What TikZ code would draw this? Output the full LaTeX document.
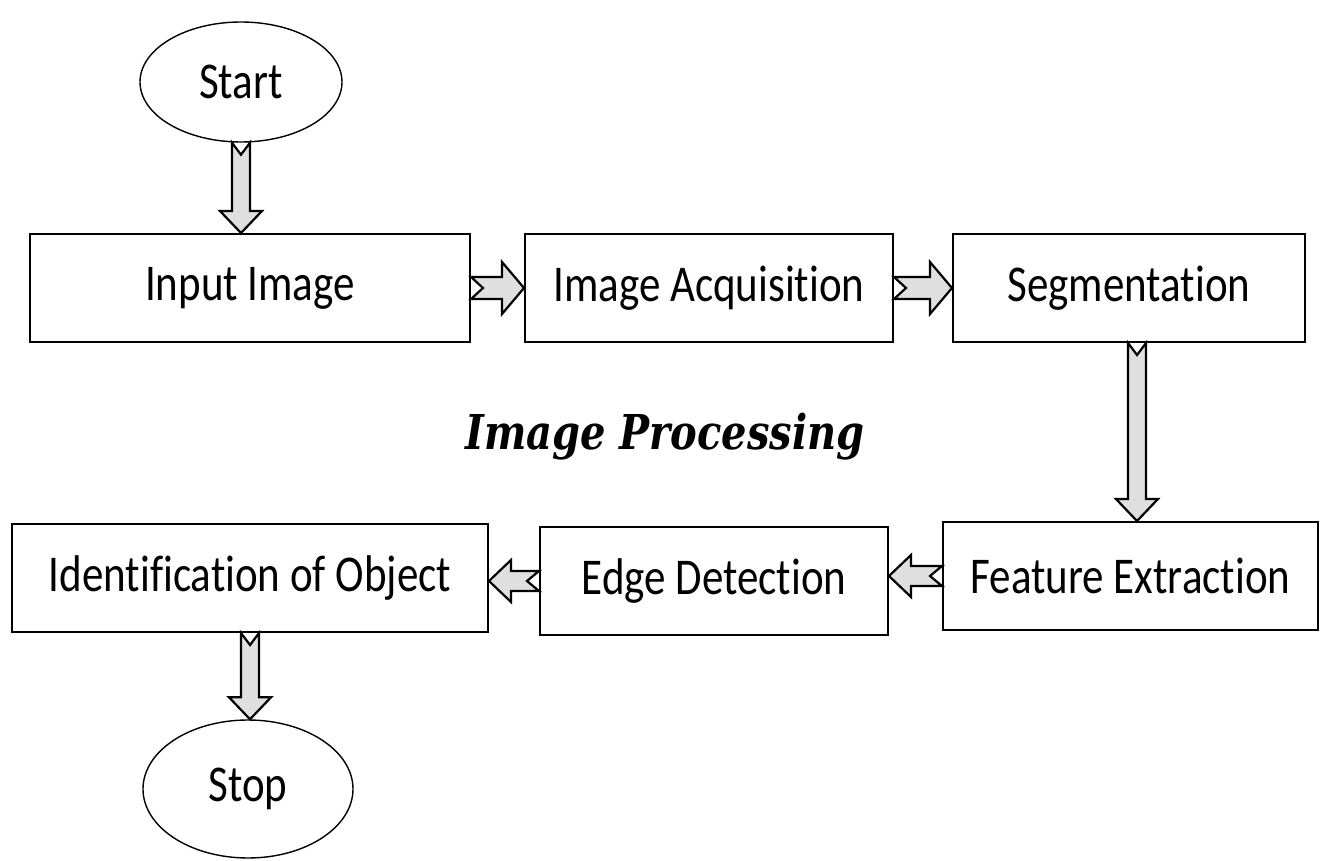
\documentclass[tikz,border=0pt]{standalone}
\usepackage{fontspec}
\setmainfont{Carlito}[Ligatures=NoCommon]
\newfontfamily\titlefont{DejaVu Serif}
\usetikzlibrary{calc,shapes.geometric}
\newcommand\TT[1]{\scalebox{1}[1.2]{#1}}
\newcommand\blockarrow[4]{%
  \draw[blockarrowstyle] let \p1=(#1), \p2=(#2),
    \n1={atan2(\y2-\y1,\x2-\x1)}, \n2={veclen(\x2-\x1,\y2-\y1)} in
    [shift={(\p1)}, rotate=\n1]
    (0pt,-#3) -- ({\n2-11pt},-#3) -- ({\n2-11pt},-#4) -- (\n2,0pt)
    -- ({\n2-11pt},#4) -- ({\n2-11pt},#3) -- (0pt,#3) -- (6pt,0pt) -- cycle;}
\begin{document}
\begin{tikzpicture}[x=0.5pt,y=-0.5pt,
  box/.style={draw, line width=1pt, rectangle, minimum height=54pt, inner sep=0pt,
    font=\fontsize{21.5}{25}\selectfont},
  term/.style={draw, line width=0.7pt, ellipse, inner sep=0pt,
    font=\fontsize{21.5}{25}\selectfont},
  blockarrowstyle/.style={draw, line width=1.1pt, fill=gray!25, line join=miter}]
\useasboundingbox (0,0) rectangle (1335,861);
\node[term, minimum width=101pt, minimum height=60pt] (start) at (241,82) {\TT{Start}};
\node[box, minimum width=220pt] (input) at (250,288) {\TT{Input Image}};
\node[box, minimum width=184pt] (acq) at (709,288) {\TT{Image Acquisition}};
\node[box, minimum width=176pt] (seg) at (1129,288) {\TT{Segmentation}};
\node[box, minimum width=187.5pt] (feat) at (1130.5,576) {\TT{Feature Extraction}};
\node[box, minimum width=174pt] (edge) at (714,581) {\TT{Edge Detection}};
\node[box, minimum width=238pt] (ident) at (250,578) {\TT{Identification of Object}};
\node[term, minimum width=105pt, minimum height=69pt] (stop) at (248,789) {\TT{Stop}};
\node[font=\titlefont\bfseries\itshape\fontsize{20}{24}\selectfont] (title) at (665,437) {\TT{Image Processing}};
\blockarrow{start.south}{start.south |- input.north}{4.5pt}{10.5pt}
\blockarrow{input.east}{acq.west}{5.5pt}{13pt}
\blockarrow{acq.east}{seg.west}{5.5pt}{13pt}
\coordinate (sd) at ([xshift=4pt]seg.south);
\blockarrow{sd}{sd |- feat.north}{4.5pt}{10.5pt}
\blockarrow{feat.west}{feat.west -| edge.east}{5pt}{10.5pt}
\blockarrow{edge.west}{edge.west -| ident.east}{5pt}{10.5pt}
\blockarrow{ident.south}{ident.south |- stop.north}{4.5pt}{10.5pt}
\end{tikzpicture}
\end{document}
